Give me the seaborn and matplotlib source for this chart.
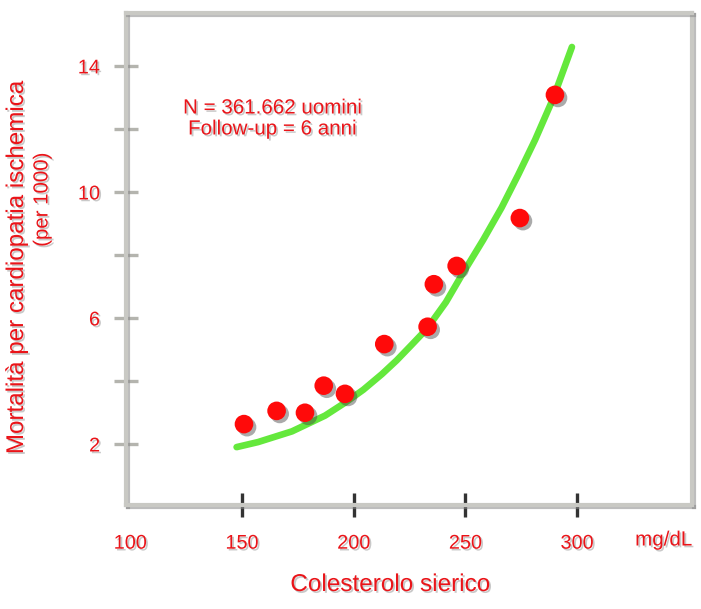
import matplotlib
matplotlib.use("Agg")
import matplotlib.pyplot as plt
import matplotlib.patheffects as pe
import seaborn as sns
import pandas as pd

# Observed data points (serum cholesterol mg/dL, mortality per 1000)
chol_pts = [150.9, 165.5, 178.2, 186.6, 196.1, 213.7, 233.1, 235.9, 246.1, 274.4, 290.1]
mort_pts = [2.63, 3.05, 2.99, 3.85, 3.59, 5.17, 5.72, 7.07, 7.65, 9.17, 13.08]

# Fitted curve
curve_x = [147.6, 157.2, 172.4, 187.2, 197.0, 204.3, 212.7, 219.2, 226.0, 232.7,
           241.3, 248.3, 258.0, 266.2, 273.7, 281.2, 289.2, 297.7]
curve_y = [1.90, 2.06, 2.40, 2.90, 3.35, 3.72, 4.22, 4.65, 5.15, 5.65,
           6.50, 7.35, 8.48, 9.50, 10.55, 11.65, 12.95, 14.60]

x_ticks = [100, 150, 200, 250, 300]
x_ticklabels = ["100", "150", "200", "250", "300"]
y_ticks = [2, 4, 6, 8, 10, 12, 14]
y_ticklabels = ["2", "", "6", "", "10", "", "14"]

sns.set_theme(style="white")
plt.rcParams["font.family"] = ["Liberation Sans", "DejaVu Sans"]

RED_TXT = "#ea1419"
RED_PT = "#ff0a0a"
GREEN = "#64e83c"
SPINE = "#c9c9c4"

txt_shadow = [pe.withSimplePatchShadow(offset=(1.3, -1.3), shadow_rgbFace="#888888", alpha=0.45)]

fig = plt.figure(figsize=(7.01, 6.09), dpi=100)
fig.patch.set_facecolor("white")
ax = fig.add_axes([0.1797, 0.1708, 0.8073, 0.8079])
ax.set_facecolor("white")

df_curve = pd.DataFrame({"x": curve_x, "y": curve_y})
df_pts = pd.DataFrame({"x": chol_pts, "y": mort_pts})

sns.lineplot(data=df_curve, x="x", y="y", ax=ax, color=GREEN, linewidth=4.8,
             sort=False, zorder=3)
sns.scatterplot(data=df_pts, x="x", y="y", ax=ax, color=RED_PT, s=180,
                edgecolor="none", linewidth=0, zorder=4)
ax.collections[-1].set_path_effects([
    pe.SimplePatchShadow(offset=(2.2, -2.2), shadow_rgbFace="#444444", alpha=0.45),
    pe.Normal()])

ax.set_xlim(98.07, 351.4)
ax.set_ylim(0.063, 15.68)

ax.set_xticks(x_ticks)
ax.set_xticklabels(x_ticklabels)
ax.set_yticks(y_ticks)
ax.set_yticklabels(y_ticklabels)

ax.tick_params(axis="x", direction="inout", length=17.3, width=2.4, color="#333333",
               pad=12.0, labelsize=14.3, labelcolor=RED_TXT)
ax.tick_params(axis="y", direction="inout", length=17.3, width=2.4, color="#b4b4ae",
               pad=10, labelsize=14.3, labelcolor=RED_TXT)
ax.tick_params(left=True, bottom=True)
ax.xaxis.get_major_ticks()[0].tick1line.set_visible(False)
for t in ax.get_xticklabels() + ax.get_yticklabels():
    t.set_path_effects(txt_shadow)

for sp in ax.spines.values():
    sp.set_visible(True)
    sp.set_color(SPINE)
    sp.set_linewidth(3.0)
    sp.set_path_effects([pe.SimpleLineShadow(offset=(1.5, -1.5), shadow_color="#888888", alpha=0.55),
                         pe.Normal()])

ax.set_xlabel("")
ax.set_ylabel("")

fig.text(390 / 701, 1 - 585 / 609, "Colesterolo sierico", color=RED_TXT, fontsize=17.5,
         ha="center", va="center", path_effects=txt_shadow)
fig.text(692 / 701, 1 - 540 / 609, "mg/dL", color=RED_TXT, fontsize=14.8,
         ha="right", va="center", path_effects=txt_shadow)
fig.text(17 / 701, 1 - 268 / 609, "Mortalità per cardiopatia ischemica", color=RED_TXT,
         fontsize=17.4, rotation=90, ha="center", va="center", path_effects=txt_shadow)
fig.text(42 / 701, 1 - 200 / 609, "(per 1000)", color=RED_TXT,
         fontsize=14.7, rotation=90, ha="center", va="center", path_effects=txt_shadow)
fig.text(272 / 701, 1 - 108 / 609, "N = 361.662 uomini", color=RED_TXT, fontsize=14.8,
         ha="center", va="center", path_effects=txt_shadow)
fig.text(272 / 701, 1 - 129 / 609, "Follow-up = 6 anni", color=RED_TXT, fontsize=14.8,
         ha="center", va="center", path_effects=txt_shadow)

fig.savefig("out.png", dpi=100, facecolor="white")
